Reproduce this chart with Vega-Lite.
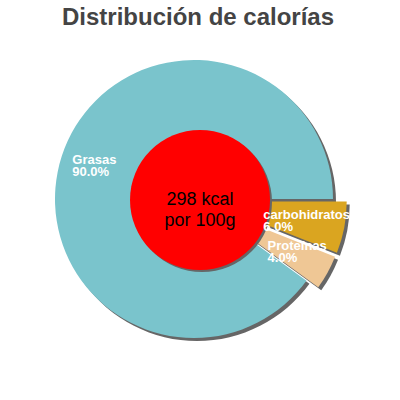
{
  "$schema": "https://vega.github.io/schema/vega-lite/v6.json",
  "width": 388,
  "height": 324,
  "autosize": {"type": "none"},
  "padding": {"left": 0, "top": 37, "right": 12, "bottom": 39},
  "background": "white",
  "title": {
    "text": "Distribución de calorías",
    "font": "Liberation Sans",
    "fontSize": 24,
    "fontWeight": "bold",
    "color": "#444444",
    "anchor": "middle",
    "offset": 7,
    "dx": 4
  },
  "datasets": {
    "slices": [
      {"label": "carbohidratos", "value": 6, "orden": 1, "etiqueta": "carbohidratos\n6.0%"},
      {"label": "Proteínas", "value": 4, "orden": 2, "etiqueta": "Proteínas\n4.0%"},
      {"label": "Grasas", "value": 90, "orden": 3, "etiqueta": "Grasas\n90.0%"}
    ],
    "centro": [
      {"texto": "298 kcal\npor 100g"}
    ]
  },
  "data": {"name": "slices"},
  "resolve": {"scale": {"theta": "shared"}},
  "layer": [
    {
      "mark": {"type": "arc", "radius": 139, "fill": "#666666", "xOffset": 3, "yOffset": 3},
      "encoding": {
        "theta": {"field": "value", "type": "quantitative", "stack": true, "scale": {"domain": [0, 100], "range": [1.5708, 7.854]}},
        "order": {"field": "orden", "type": "ordinal"},
        "opacity": {"condition": {"test": "datum.label === 'Grasas'", "value": 1}, "value": 0}
      }
    },
    {
      "mark": {"type": "arc", "radius": 139, "fill": "#666666", "xOffset": 16.7, "yOffset": 5.6},
      "encoding": {
        "theta": {"field": "value", "type": "quantitative", "stack": true},
        "order": {"field": "orden", "type": "ordinal"},
        "opacity": {"condition": {"test": "datum.label === 'carbohidratos'", "value": 1}, "value": 0}
      }
    },
    {
      "mark": {"type": "arc", "radius": 139, "fill": "#666666", "xOffset": 14.8, "yOffset": 9.5},
      "encoding": {
        "theta": {"field": "value", "type": "quantitative", "stack": true},
        "order": {"field": "orden", "type": "ordinal"},
        "opacity": {"condition": {"test": "datum.label === 'Proteínas'", "value": 1}, "value": 0}
      }
    },
    {
      "mark": {"type": "arc", "radius": 139, "fill": "#7ac4cc"},
      "encoding": {
        "theta": {"field": "value", "type": "quantitative", "stack": true},
        "order": {"field": "orden", "type": "ordinal"},
        "opacity": {"condition": {"test": "datum.label === 'Grasas'", "value": 1}, "value": 0}
      }
    },
    {
      "mark": {"type": "arc", "radius": 139, "fill": "#daa520", "xOffset": 13.7, "yOffset": 2.6},
      "encoding": {
        "theta": {"field": "value", "type": "quantitative", "stack": true},
        "order": {"field": "orden", "type": "ordinal"},
        "opacity": {"condition": {"test": "datum.label === 'carbohidratos'", "value": 1}, "value": 0}
      }
    },
    {
      "mark": {"type": "arc", "radius": 139, "fill": "#efc795", "xOffset": 11.8, "yOffset": 6.5},
      "encoding": {
        "theta": {"field": "value", "type": "quantitative", "stack": true},
        "order": {"field": "orden", "type": "ordinal"},
        "opacity": {"condition": {"test": "datum.label === 'Proteínas'", "value": 1}, "value": 0}
      }
    },
    {
      "data": {"name": "centro"},
      "mark": {"type": "arc", "radius": 70, "theta": 0, "theta2": 6.2832, "fill": "#666666", "xOffset": 8, "yOffset": 3},
      "encoding": {}
    },
    {
      "data": {"name": "centro"},
      "mark": {"type": "arc", "radius": 70, "theta": 0, "theta2": 6.2832, "fill": "#ff0000", "xOffset": 6, "yOffset": 1},
      "encoding": {}
    },
    {
      "data": {"name": "centro"},
      "mark": {"type": "text", "font": "Liberation Sans", "fontSize": 18, "lineHeight": 21, "align": "center", "baseline": "middle", "lineBreak": "\n", "color": "#000000", "dx": 6, "dy": 0.5},
      "encoding": {"text": {"field": "texto"}}
    },
    {
      "mark": {"type": "text", "font": "Liberation Sans", "fontSize": 13, "fontWeight": "bold", "lineHeight": 11.7, "align": "left", "baseline": "alphabetic", "lineBreak": "\n", "color": "#ffffff", "dy": 4.6},
      "encoding": {
        "theta": {"field": "value", "type": "quantitative", "stack": true},
        "order": {"field": "orden", "type": "ordinal"},
        "radius": {"value": 128},
        "text": {"condition": {"test": "datum.label === 'Grasas'", "field": "etiqueta"}, "value": ""}
      }
    },
    {
      "mark": {"type": "text", "font": "Liberation Sans", "fontSize": 13, "fontWeight": "bold", "lineHeight": 11.7, "align": "left", "baseline": "alphabetic", "lineBreak": "\n", "color": "#ffffff", "dy": 6.8},
      "encoding": {
        "theta": {"field": "value", "type": "quantitative", "stack": true},
        "order": {"field": "orden", "type": "ordinal"},
        "radius": {"value": 70.6},
        "text": {"condition": {"test": "datum.label === 'carbohidratos'", "field": "etiqueta"}, "value": ""}
      }
    },
    {
      "mark": {"type": "text", "font": "Liberation Sans", "fontSize": 13, "fontWeight": "bold", "lineHeight": 11.7, "align": "left", "baseline": "alphabetic", "lineBreak": "\n", "color": "#ffffff", "dy": 10.8},
      "encoding": {
        "theta": {"field": "value", "type": "quantitative", "stack": true},
        "order": {"field": "orden", "type": "ordinal"},
        "radius": {"value": 84},
        "text": {"condition": {"test": "datum.label === 'Proteínas'", "field": "etiqueta"}, "value": ""}
      }
    }
  ]
}
